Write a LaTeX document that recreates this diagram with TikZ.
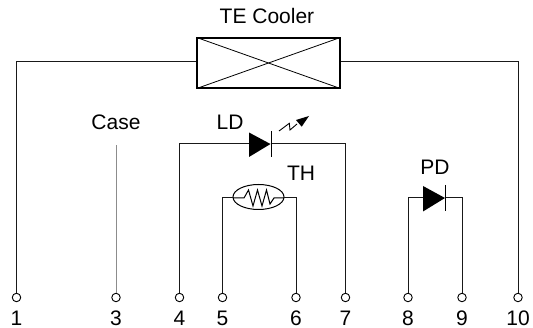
\documentclass[tikz,border=0pt]{standalone}
\usepackage{fontspec}
\usetikzlibrary{shapes.geometric}
\setmainfont{Liberation Sans}
\tikzset{
  wire/.style={line width=1pt,black!90},
  pin/.style={circle,draw,line width=0.9pt,fill=white,inner sep=0pt,minimum size=8.5pt},
  lbl/.style={inner sep=0pt,font=\fontsize{21}{23}\selectfont}
}
\begin{document}
\begin{tikzpicture}[x=1pt,y=-1pt]
\useasboundingbox (0,0) rectangle (533,328);
% pins
\foreach \n/\x in {1/16.5,3/116,4/179.5,5/222.5,6/296,7/345.5,8/408,9/462,10/518}{
  \node[pin] (p\n) at (\x,297.5) {};
  \node[lbl] (t\n) at (\x,318.5) {\n};
}
% TE cooler
\node[draw,line width=1.2pt,minimum width=143pt,minimum height=50pt,inner sep=0pt] (tec) at (268.5,63) {};
\draw[line width=0.8pt] (tec.north west) -- (tec.south east) (tec.south west) -- (tec.north east);
\node[lbl] (tectext) at (267,16) {TE Cooler};
\coordinate (c1) at (16.5,62);
\coordinate (c10) at (518,62);
\draw[wire] (p1.north) -- (c1) -- (c1 -| tec.west);
\draw[wire] (p10.north) -- (c10) -- (c10 -| tec.east);
% case
\node[lbl] (case) at (116,122) {Case};
\coordinate (c3) at (116,145);
\draw[line width=1pt,black!45] (p3.north) -- (c3);
% LD
\coordinate (lda) at (249,144);
\coordinate (ldk) at (271,144);
\node[lbl] (ld) at (230,122) {LD};
\draw[wire] (p4.north) -- (179.5,144) -- (lda);
\draw[wire] (p7.north) -- (345.5,144) -- (ldk);
\fill (249,132.5) -- (270.5,144) -- (249,157) -- cycle;
\draw[line width=1pt] (271,131) -- (271,157);
\draw[line width=0.9pt] (279,131) -- (289.3,123.3) -- (290,130) -- (297,124);
\fill (309,116) -- (296,120) -- (301.7,126.7) -- cycle;
% TH
\node[lbl] (th) at (301,173) {TH};
\node[draw,ellipse,line width=1pt,minimum width=51pt,minimum height=25pt,inner sep=0pt] (therm) at (258.5,197) {};
\draw[wire] (p5.north) -- (222.5,198) -- (233,198);
\draw[wire] (p6.north) -- (296,198) -- (284,198);
\draw[line width=1pt] (233,198) -- (244,198) -- (248.5,190) -- (253,206) -- (257.5,190) -- (262,206) -- (266.5,190) -- (270,204) -- (274,198) -- (284,198);
% PD
\node[lbl] (pd) at (435,167) {PD};
\coordinate (pda) at (423,198);
\coordinate (pdk) at (445.5,198);
\draw[wire] (p8.north) -- (408,198) -- (pda);
\draw[wire] (p9.north) -- (462,198) -- (pdk);
\fill (423,186) -- (445,198) -- (423,211.5) -- cycle;
\draw[line width=1pt] (445.5,185) -- (445.5,211);
\end{tikzpicture}
\end{document}
